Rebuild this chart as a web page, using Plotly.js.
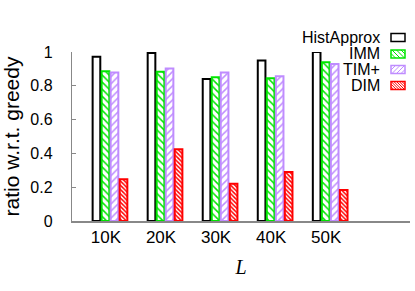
<!DOCTYPE html>
<html><head><meta charset="utf-8">
<script src="https://cdn.plot.ly/plotly-3.0.1.min.js"></script>
<style>html,body{margin:0;padding:0;background:#fff}#chart{width:415px;height:291px}</style>
</head><body><div id="chart"></div>
<script>
var categories = ['10K', '20K', '30K', '40K', '50K'];
var seriesNames = ['HistApprox', 'IMM', 'TIM+', 'DIM'];
var histApprox = [0.972, 0.994, 0.840, 0.949, 1.000];
var imm        = [0.886, 0.883, 0.850, 0.844, 0.939];
var timPlus    = [0.878, 0.903, 0.878, 0.856, 0.929];
var dim        = [0.247, 0.424, 0.221, 0.290, 0.183];
var yTicks = [0, 0.2, 0.4, 0.6, 0.8, 1];
var yTickText = ['0', '0.2', '0.4', '0.6', '0.8', '1'];

var W = 415, H = 291, ML = 72, MR = 5, MT = 52, MB = 70;
var PW = W - ML - MR, PH = H - MT - MB;

var styles = [
  {line: '#000000', pat: '', fg: '#000000', size: 6, sol: 0.2},
  {line: '#00e600', pat: '\\', fg: '#00e600', size: 5, sol: 0.3},
  {line: '#bf8cff', pat: '/', fg: '#bf8cff', size: 5, sol: 0.3},
  {line: '#ff0000', pat: '\\', fg: '#ff0000', size: 3, sol: 0.5}
];
var values = [histApprox, imm, timPlus, dim];

var traces = values.map(function (v, i) {
  var s = styles[i];
  var m = {color: '#ffffff', line: {color: s.line, width: 2}};
  if (s.pat) m.pattern = {shape: s.pat, fgcolor: s.fg, bgcolor: '#ffffff', size: s.size, solidity: s.sol};
  return {type: 'bar', name: seriesNames[i], x: categories, y: v, marker: m, showlegend: false, hoverinfo: 'skip'};
});

// custom legend (text left of swatch, as in reference)
function px2paperX(px) { return (px - ML) / PW; }
function px2paperY(py) { return (MT + PH - py) / PH; }
var legendY = [37.5, 54, 69.5, 85.5];
var annotations = [], shapes = [];
seriesNames.forEach(function (n, i) {
  var cy = legendY[i];
  annotations.push({text: n, xref: 'paper', yref: 'paper', x: px2paperX(382), y: px2paperY(cy),
    xanchor: 'right', yanchor: 'middle', showarrow: false,
    font: {family: 'Liberation Sans, Arial, sans-serif', size: 16, color: '#000'}});
  var x0 = 391, x1 = 405, y0 = cy - 4, y1 = cy + 4;
  var s = styles[i];
  var p = 'M' + px2paperX(x0) + ',' + px2paperY(y0) + 'L' + px2paperX(x1) + ',' + px2paperY(y0) +
          'L' + px2paperX(x1) + ',' + px2paperY(y1) + 'L' + px2paperX(x0) + ',' + px2paperY(y1) + 'Z';
  shapes.push({type: 'path', xref: 'paper', yref: 'paper', path: p, fillcolor: '#fff',
    line: {color: s.line, width: 1.5}});
  if (s.pat) {
    var step = s.size * 0.9, d = '';
    if (s.pat === '\\') {
      for (var c = x0 - y1; c <= x1 - y0; c += step) {
        var ya = Math.max(y0, x0 - c), yb = Math.min(y1, x1 - c);
        if (yb > ya) d += 'M' + px2paperX(ya + c) + ',' + px2paperY(ya) + 'L' + px2paperX(yb + c) + ',' + px2paperY(yb);
      }
    } else {
      for (var c2 = x0 + y0; c2 <= x1 + y1; c2 += step) {
        var yc = Math.max(y0, c2 - x1), yd = Math.min(y1, c2 - x0);
        if (yd > yc) d += 'M' + px2paperX(c2 - yc) + ',' + px2paperY(yc) + 'L' + px2paperX(c2 - yd) + ',' + px2paperY(yd);
      }
    }
    shapes.push({type: 'path', xref: 'paper', yref: 'paper', path: d, line: {color: s.fg, width: 1}});
  }
});

var layout = {
  width: W, height: H,
  margin: {l: ML, r: MR, t: MT, b: MB, pad: 0},
  paper_bgcolor: '#fff', plot_bgcolor: '#fff',
  barmode: 'group', bargap: 0.345, bargroupgap: 0.15,
  showlegend: false,
  font: {family: 'Liberation Sans, Arial, sans-serif', color: '#000'},
  xaxis: {
    type: 'category', range: [-0.69, 5.45], showgrid: false, zeroline: false,
    showline: true, linecolor: '#888', linewidth: 1.5, ticks: '', ticklabelshift: -4,
    tickfont: {size: 17, color: '#000'},
    title: {text: '<i>L</i>', font: {family: 'Liberation Serif, Times New Roman, serif', size: 20, color: '#000'}, standoff: 14}
  },
  yaxis: {
    range: [0, 1], showgrid: false, zeroline: false, showline: true, linecolor: '#888', linewidth: 1.2,
    ticks: 'inside', ticklen: 4, tickcolor: '#888', tickvals: yTicks, ticktext: yTickText,
    ticklabelstandoff: 15, tickfont: {size: 16, color: '#000'},
    title: {text: 'ratio w.r.t. greedy', font: {size: 21, color: '#000'}, standoff: 6}
  },
  annotations: annotations, shapes: shapes
};
Plotly.newPlot('chart', traces, layout, {staticPlot: true, displayModeBar: false});
</script></body></html>
